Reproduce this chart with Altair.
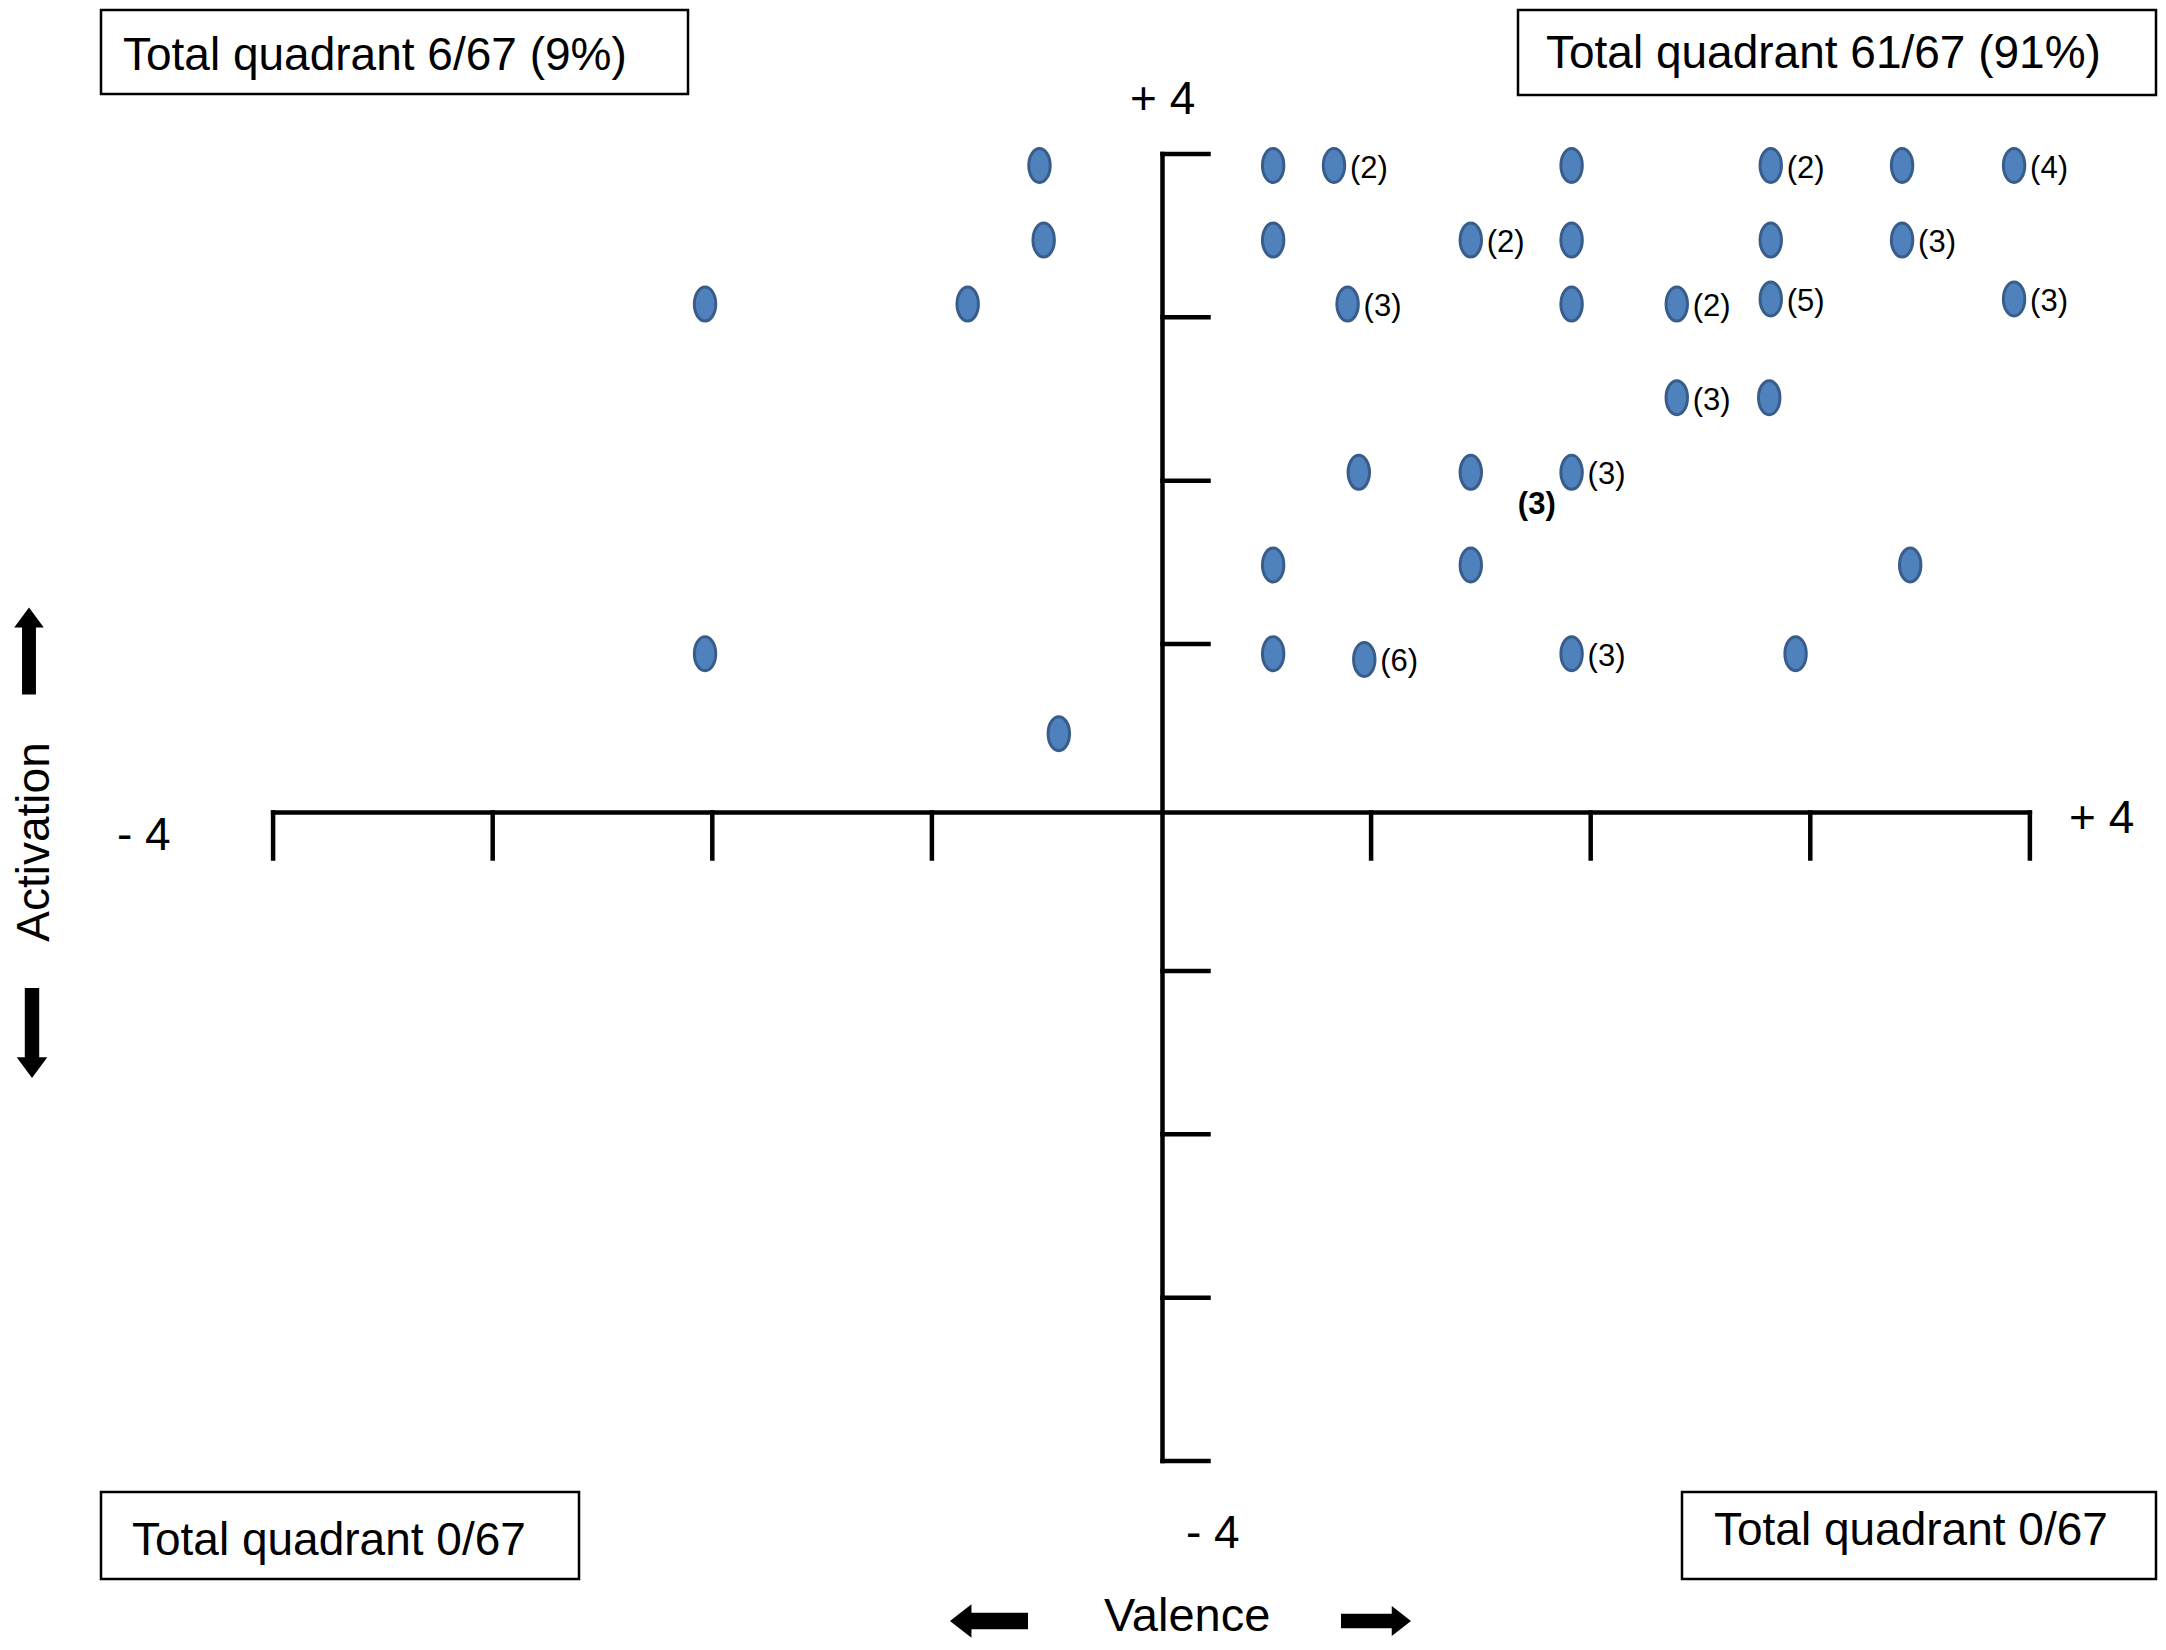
import altair as alt
import pandas as pd

# ---------------- data ----------------
pt_valence = [-0.510, 0.554, 0.831, 1.913, 2.820, 3.418, 3.928,
              -0.491, 0.554, 1.454, 1.913, 2.820, 3.418,
              -2.033, -0.837, 0.893, 1.913, 2.392, 2.820, 3.928,
              2.392, 2.813,
              0.944, 1.454, 1.913,
              0.554, 1.454, 3.455,
              -2.033, 0.554, 0.969, 1.913, 2.933,
              -0.422]
pt_activation = [3.929, 3.929, 3.929, 3.929, 3.929, 3.929, 3.929,
                 3.473, 3.473, 3.473, 3.473, 3.473, 3.473,
                 3.081, 3.081, 3.081, 3.081, 3.081, 3.112, 3.112,
                 2.508, 2.508,
                 2.051, 2.051, 2.051,
                 1.484, 1.484, 1.484,
                 0.941, 0.941, 0.906, 0.941, 0.941,
                 0.452]
pt_count = [1, 1, 2, 1, 2, 1, 4,
            1, 1, 2, 1, 1, 3,
            1, 1, 3, 1, 2, 5, 3,
            3, 1,
            1, 1, 3,
            1, 1, 1,
            1, 1, 6, 3, 1,
            1]

bold_valence = [1.454]
bold_activation = [2.051]
bold_text = ["(3)"]

axis_ticks = [-4, -3, -2, -1, 1, 2, 3, 4]
quad_labels = ["Total quadrant 6/67 (9%)", "Total quadrant 61/67 (91%)",
               "Total quadrant 0/67", "Total quadrant 0/67"]
axis_end_labels = ["+ 4", "- 4", "+ 4", "- 4"]
x_title = "Valence"
y_title = "Activation"

# ---------------- layout ----------------
W, H = 2150, 1628
FONT = "Liberation Sans"
X_DOMAIN = [-5.2072, 4.5834]
Y_DOMAIN = [-(H - 798.5) / 163.4, 798.5 / 163.4]

xs = alt.Scale(domain=X_DOMAIN, nice=False, zero=False)
ys = alt.Scale(domain=Y_DOMAIN, nice=False, zero=False)

points = pd.DataFrame({"valence": pt_valence, "activation": pt_activation, "count": pt_count})
bold = pd.DataFrame({"valence": bold_valence, "activation": bold_activation, "t": bold_text})
hline = pd.DataFrame({"a": [-4], "b": [4], "c": [0]})
vline = pd.DataFrame({"a": [-4], "b": [4], "c": [0]})
hticks = pd.DataFrame({"v": axis_ticks, "z": [0] * len(axis_ticks)})
vticks = pd.DataFrame({"v": axis_ticks, "z": [0] * len(axis_ticks)})
one = pd.DataFrame({"a": [0]})

ELLIPSE = "M0,-1A0.63,1,0,1,1,0,1A0.63,1,0,1,1,0,-1Z"
UP = "M0,-1L0.34,-0.54L0.16,-0.54L0.16,1L-0.16,1L-0.16,-0.54L-0.34,-0.54Z"
DOWN = "M0,1L0.34,0.54L0.16,0.54L0.16,-1L-0.16,-1L-0.16,0.54L-0.34,0.54Z"
LEFT = "M-1,0L-0.45,-0.43L-0.45,-0.21L1,-0.21L1,0.21L-0.45,0.21L-0.45,0.43Z"
RIGHT = "M1,0L0.45,-0.43L0.45,-0.21L-1,-0.21L-1,0.21L0.45,0.21L0.45,0.43Z"

AXW = 4.5
X = lambda f: alt.X(f, type="quantitative", scale=xs, axis=None)
Y = lambda f: alt.Y(f, type="quantitative", scale=ys, axis=None)

h_axis = alt.Chart(hline).mark_rule(color="black", strokeWidth=AXW, yOffset=5, y2Offset=5,
                                     strokeCap="square").encode(
    x=X("a"), x2="b:Q", y=Y("c"), y2="c:Q")
v_axis = alt.Chart(vline).mark_rule(color="black", strokeWidth=AXW, xOffset=11, x2Offset=11,
                                     strokeCap="square").encode(
    y=Y("a"), y2="b:Q", x=X("c"), x2="c:Q")
h_ticks = alt.Chart(hticks).mark_rule(color="black", strokeWidth=AXW, yOffset=5, y2Offset=51,
                                       strokeCap="square").encode(
    x=X("v"), x2="v:Q", y=Y("z"), y2="z:Q")
v_ticks = alt.Chart(vticks).mark_rule(color="black", strokeWidth=AXW, xOffset=11, x2Offset=57,
                                       strokeCap="square").encode(
    y=Y("v"), y2="v:Q", x=X("z"), x2="z:Q")

pts = alt.Chart(points).mark_point(shape=ELLIPSE, size=1156, filled=True, color="#4F81BD",
                                    stroke="#385D8A", strokeWidth=3, opacity=1).encode(
    x=X("valence"), y=Y("activation"))

cnt = alt.Chart(points).transform_filter("datum.count > 1").transform_calculate(
    lbl="'(' + datum.count + ')'").mark_text(
    align="left", baseline="middle", dx=16, dy=3, fontSize=31, font=FONT, color="black").encode(
    x=X("valence"), y=Y("activation"), text="lbl:N")

bold_lbl = alt.Chart(bold).mark_text(
    align="center", baseline="middle", dx=66, dy=33, fontSize=31, fontWeight="bold",
    font=FONT, color="black").encode(
    x=X("valence"), y=Y("activation"), text="t:N")

layers = [h_axis, v_axis, h_ticks, v_ticks, pts, cnt, bold_lbl]

boxes = [(93, 680, 1, 85, 115, 61), (1510, 2148, 1, 86, 1538, 59),
         (93, 571, 1483, 1570, 124, 1546), (1674, 2148, 1483, 1570, 1706, 1536)]
for (bx1, bx2, by1, by2, tx, ty), lab in zip(boxes, quad_labels):
    layers.append(alt.Chart(one).mark_rect(fill="white", stroke="black", strokeWidth=2.5).encode(
        x=alt.value(bx1), x2=alt.value(bx2), y=alt.value(by1), y2=alt.value(by2)))
    layers.append(alt.Chart(one).mark_text(
        text=lab, align="left", baseline="alphabetic", fontSize=46, font=FONT, color="black").encode(
        x=alt.value(tx), y=alt.value(ty)))

end_pos = [(1122, 105), (109, 841), (2061, 824), (1178, 1539)]
for (tx, ty), lab in zip(end_pos, axis_end_labels):
    layers.append(alt.Chart(one).mark_text(
        text=lab, align="left", baseline="alphabetic", fontSize=46, font=FONT, color="black").encode(
        x=alt.value(tx), y=alt.value(ty)))

layers.append(alt.Chart(one).mark_text(
    text=x_title, align="left", baseline="alphabetic", fontSize=47, font=FONT, color="black").encode(
    x=alt.value(1096), y=alt.value(1622)))
layers.append(alt.Chart(one).mark_text(
    text=y_title, align="center", baseline="alphabetic", angle=270, fontSize=46, font=FONT,
    color="black").encode(x=alt.value(41), y=alt.value(833)))

for shp, sz, ax, ay in [(UP, 7569, 21, 642), (DOWN, 8100, 24, 1024),
                        (LEFT, 6084, 981, 1612), (RIGHT, 4900, 1368, 1612)]:
    layers.append(alt.Chart(one).mark_point(shape=shp, size=sz, filled=True, color="black",
                                            opacity=1).encode(
        x=alt.value(ax), y=alt.value(ay)))

chart = alt.layer(*layers).properties(
    width=W, height=H, padding=0, background="white"
).configure_view(stroke=None)

chart.save("out.html", embed_options={"renderer": "svg", "actions": False})
